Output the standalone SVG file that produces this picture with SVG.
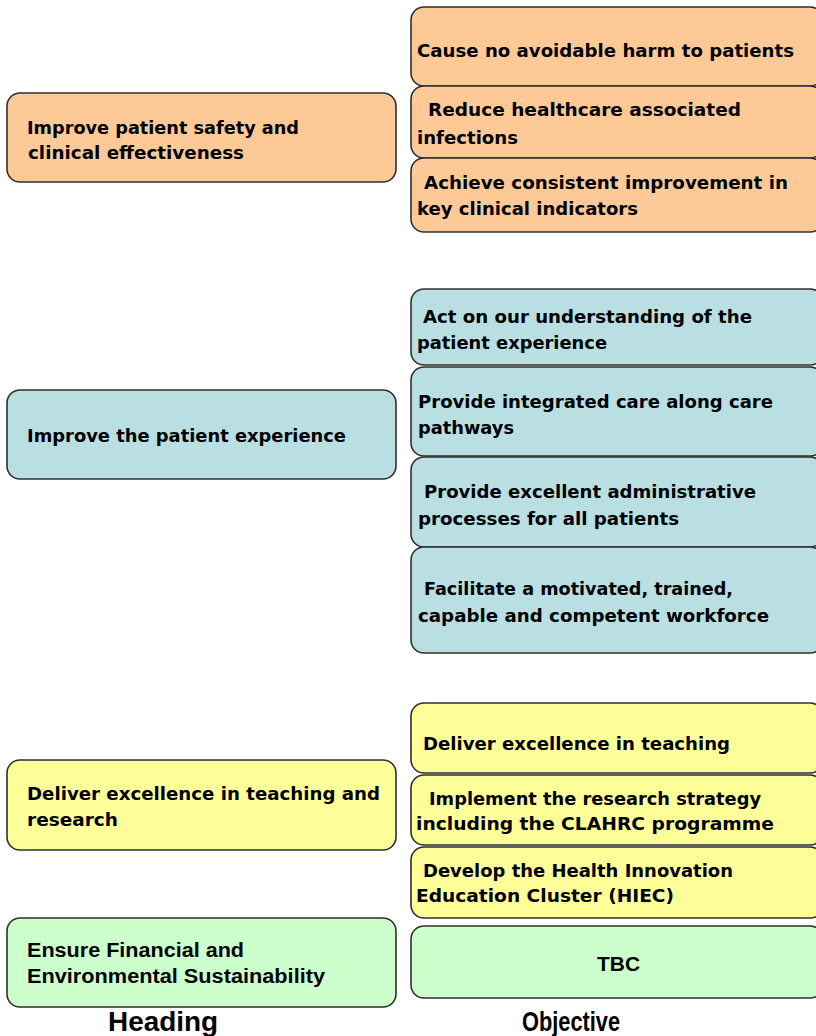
<svg xmlns="http://www.w3.org/2000/svg" width="816" height="1036" viewBox="0 0 816 1036">
  <style>
    .box { stroke: #2f2f2f; stroke-width: 1.6; }
    .safety { fill: #fdca97; }
    .experience { fill: #b9dfe2; }
    .teaching { fill: #ffff99; }
    .finance { fill: #ccffcc; }
    .t { font-family: "DejaVu Sans", "Liberation Sans", sans-serif; font-weight: bold; font-size: 18.5px; fill: #000; }
    .n { font-family: "Liberation Sans Narrow", "Liberation Sans", sans-serif; font-weight: bold; font-size: 19.5px; fill: #000; }
    .cap { font-family: "Liberation Sans Narrow", "Liberation Sans", sans-serif; font-weight: bold; font-size: 28px; fill: #000; }
  </style>

  <!-- Headings (left column) -->
  <g id="heading-safety">
    <rect class="box safety" x="7" y="93" width="389" height="89" rx="13"/>
    <text class="t" x="27" y="134" textLength="272" lengthAdjust="spacingAndGlyphs">Improve patient safety and</text>
    <text class="t" x="28" y="159" textLength="216" lengthAdjust="spacingAndGlyphs">clinical effectiveness</text>
  </g>
  <g id="heading-experience">
    <rect class="box experience" x="7" y="390" width="389" height="89" rx="13"/>
    <text class="t" x="27" y="442" textLength="319" lengthAdjust="spacingAndGlyphs">Improve the patient experience</text>
  </g>
  <g id="heading-teaching">
    <rect class="box teaching" x="7" y="760" width="389" height="90" rx="13"/>
    <text class="t" x="27" y="800" textLength="353" lengthAdjust="spacingAndGlyphs">Deliver excellence in teaching and</text>
    <text class="t" x="27" y="826" textLength="91" lengthAdjust="spacingAndGlyphs">research</text>
  </g>
  <g id="heading-finance">
    <rect class="box finance" x="7" y="918" width="389" height="89" rx="13"/>
    <text class="n" x="27" y="957" textLength="217" lengthAdjust="spacingAndGlyphs">Ensure Financial and</text>
    <text class="n" x="27" y="983" textLength="298" lengthAdjust="spacingAndGlyphs">Environmental Sustainability</text>
  </g>

  <!-- Objectives (right column) -->
  <g id="obj-harm">
    <rect class="box safety" x="411" y="7" width="412" height="79" rx="13"/>
    <text class="t" x="417" y="57" textLength="377" lengthAdjust="spacingAndGlyphs">Cause no avoidable harm to patients</text>
  </g>
  <g id="obj-infections">
    <rect class="box safety" x="411" y="86" width="412" height="72" rx="13"/>
    <text class="t" x="428" y="116" textLength="313" lengthAdjust="spacingAndGlyphs">Reduce healthcare associated</text>
    <text class="t" x="417" y="144" textLength="101" lengthAdjust="spacingAndGlyphs">infections</text>
  </g>
  <g id="obj-indicators">
    <rect class="box safety" x="411" y="158" width="412" height="74" rx="13"/>
    <text class="t" x="424" y="189" textLength="364" lengthAdjust="spacingAndGlyphs">Achieve consistent improvement in</text>
    <text class="t" x="417" y="215" textLength="221" lengthAdjust="spacingAndGlyphs">key clinical indicators</text>
  </g>

  <g id="obj-understanding">
    <rect class="box experience" x="411" y="289" width="412" height="76" rx="13"/>
    <text class="t" x="423" y="323" textLength="329" lengthAdjust="spacingAndGlyphs">Act on our understanding of the</text>
    <text class="t" x="417" y="349" textLength="190" lengthAdjust="spacingAndGlyphs">patient experience</text>
  </g>
  <g id="obj-integrated">
    <rect class="box experience" x="411" y="367" width="412" height="89" rx="13"/>
    <text class="t" x="418" y="408" textLength="355" lengthAdjust="spacingAndGlyphs">Provide integrated care along care</text>
    <text class="t" x="418" y="434" textLength="96" lengthAdjust="spacingAndGlyphs">pathways</text>
  </g>
  <g id="obj-administrative">
    <rect class="box experience" x="411" y="457" width="412" height="90" rx="13"/>
    <text class="t" x="424" y="498" textLength="332" lengthAdjust="spacingAndGlyphs">Provide excellent administrative</text>
    <text class="t" x="418" y="525" textLength="261" lengthAdjust="spacingAndGlyphs">processes for all patients</text>
  </g>
  <g id="obj-workforce">
    <rect class="box experience" x="411" y="547" width="412" height="106" rx="13"/>
    <text class="t" x="424" y="595" textLength="309" lengthAdjust="spacingAndGlyphs">Facilitate a motivated, trained,</text>
    <text class="t" x="418" y="622" textLength="351" lengthAdjust="spacingAndGlyphs">capable and competent workforce</text>
  </g>

  <g id="obj-teaching">
    <rect class="box teaching" x="411" y="703" width="412" height="70" rx="13"/>
    <text class="t" x="423" y="750" textLength="307" lengthAdjust="spacingAndGlyphs">Deliver excellence in teaching</text>
  </g>
  <g id="obj-research">
    <rect class="box teaching" x="411" y="775" width="412" height="70" rx="13"/>
    <text class="t" x="429" y="805" textLength="332" lengthAdjust="spacingAndGlyphs">Implement the research strategy</text>
    <text class="t" x="416" y="830" textLength="358" lengthAdjust="spacingAndGlyphs">including the CLAHRC programme</text>
  </g>
  <g id="obj-hiec">
    <rect class="box teaching" x="411" y="847" width="412" height="71" rx="13"/>
    <text class="t" x="423" y="877" textLength="310" lengthAdjust="spacingAndGlyphs">Develop the Health Innovation</text>
    <text class="t" x="416" y="902" textLength="258" lengthAdjust="spacingAndGlyphs">Education Cluster (HIEC)</text>
  </g>

  <g id="obj-tbc">
    <rect class="box finance" x="411" y="926" width="412" height="72" rx="13"/>
    <text class="n" x="597" y="971" textLength="43" lengthAdjust="spacingAndGlyphs">TBC</text>
  </g>

  <!-- Column captions -->
  <g id="captions">
    <text class="cap" x="108" y="1031" textLength="110" lengthAdjust="spacingAndGlyphs">Heading</text>
    <text class="cap" x="522" y="1031" textLength="98" lengthAdjust="spacingAndGlyphs">Objective</text>
  </g>

  <!-- No connectors are drawn between the columns -->
  <g id="connectors"/>
</svg>
